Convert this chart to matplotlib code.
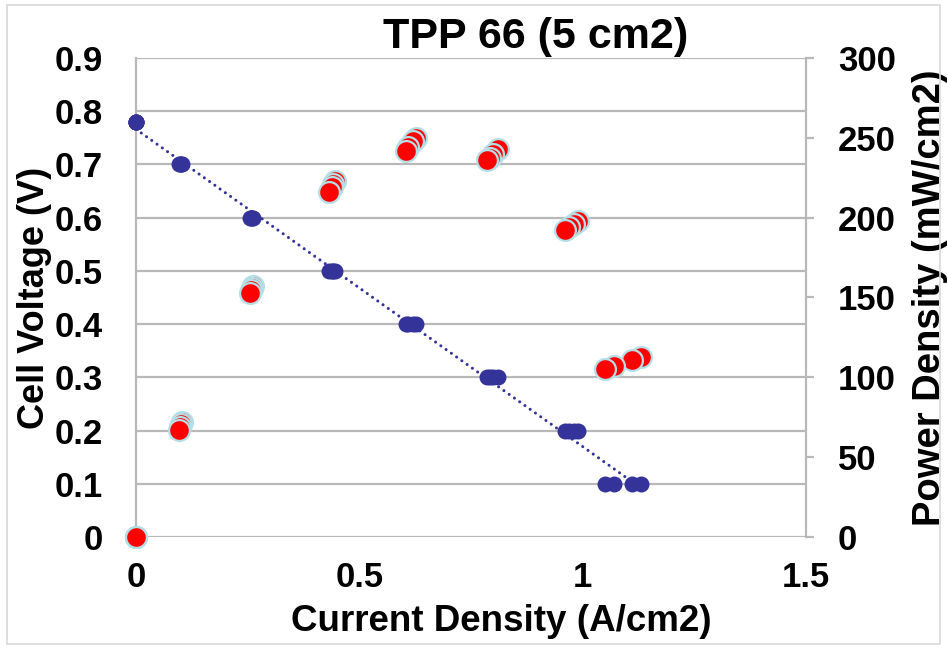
import numpy as np
import matplotlib
matplotlib.use("Agg")
import matplotlib.pyplot as plt
from matplotlib.patches import Rectangle

plt.rcParams['font.family'] = ['Liberation Sans', 'DejaVu Sans']
plt.rcParams['font.weight'] = 'bold'

# current density (A/cm2), four scans per voltage step
current = [0, 0, 0, 0,
           0.096, 0.099, 0.101, 0.103,
           0.255, 0.258, 0.260, 0.262,
           0.433, 0.438, 0.442, 0.446,
           0.604, 0.610, 0.620, 0.626,
           0.786, 0.792, 0.800, 0.810,
           0.960, 0.970, 0.980, 0.990,
           1.050, 1.070, 1.110, 1.130]
voltage = [0.78] * 4 + [0.7] * 4 + [0.6] * 4 + [0.5] * 4 + \
          [0.4] * 4 + [0.3] * 4 + [0.2] * 4 + [0.1] * 4
power = [0, 0, 0, 0,
         67, 69, 70.5, 72,
         153, 155, 156, 157.5,
         216, 219, 221, 223,
         242, 244, 248, 250,
         236, 237.5, 240, 243,
         192, 194, 196, 198,
         105, 107, 111, 113]

xticks = [0, 0.5, 1, 1.5]
vticks = [0, 0.1, 0.2, 0.3, 0.4, 0.5, 0.6, 0.7, 0.8, 0.9]
pticks = [0, 50, 100, 150, 200, 250, 300]

blue = '#333399'
grid_c = '#b8b8b8'

fig = plt.figure(figsize=(9.47, 6.48), dpi=100)
fig.patches.append(Rectangle((0.007, 0.006), 0.986, 0.986, transform=fig.transFigure,
                             fill=False, edgecolor='#d9d9d9', linewidth=1.2))
ax = fig.add_axes([0.1436, 0.1713, 0.7075, 0.7392])

ax.set_xlim(0, 1.5)
ax.set_ylim(0, 0.9)
ax.set_xticks(xticks)
ax.set_xticklabels(['0', '0.5', '1', '1.5'])
ax.set_yticks(vticks)
ax.set_yticklabels(['0', '0.1', '0.2', '0.3', '0.4', '0.5', '0.6', '0.7', '0.8', '0.9'])
ax.yaxis.grid(True, color=grid_c, linewidth=1.6)
ax.set_axisbelow(True)
for s in ['top', 'right', 'bottom']:
    ax.spines[s].set_visible(False)
ax.spines['left'].set_color(grid_c)
ax.spines['left'].set_linewidth(1.6)
ax.tick_params(axis='both', length=0, labelsize=25)
ax.tick_params(axis='x', pad=17)
ax.tick_params(axis='y', pad=24)

# linear trendline through the voltage points
k, b = np.polyfit(current, voltage, 1)
xs = np.array([0, max(current)])
ax.plot(xs, k * xs + b, color=blue, linewidth=2.2,
        linestyle=(0, (0.01, 2.1)), dash_capstyle='round', zorder=2)
ax.plot(current, voltage, 'o', color=blue, markersize=11.5, markeredgewidth=0,
        zorder=3, clip_on=False)

ax.set_xlabel('Current Density (A/cm2)', fontsize=26.5, fontweight='bold')
ax.xaxis.set_label_coords(0.545, -0.177)
ax.xaxis.label.set_va('center')
ax.set_ylabel('Cell Voltage (V)', fontsize=26, fontweight='bold')
ax.yaxis.set_label_coords(-0.151, 0.5)
ax.yaxis.label.set_va('center')

ax2 = ax.twinx()
ax2.set_ylim(0, 300)
ax2.set_yticks(pticks)
for s in ['top', 'left', 'bottom']:
    ax2.spines[s].set_visible(False)
ax2.spines['right'].set_color(grid_c)
ax2.spines['right'].set_linewidth(1.6)
ax2.tick_params(axis='y', length=6, width=1.6, color=grid_c, labelsize=25, pad=17)
# later scans drawn first so the first scan sits in front
ax2.plot(current[::-1], power[::-1], 'o', color='#ff0000', markersize=15,
         markeredgecolor='#b4dfe6', markeredgewidth=1.6, zorder=4, clip_on=False)
ax2.set_ylabel('Power Density (mW/cm2)', fontsize=27.5, fontweight='bold')
ax2.yaxis.set_label_coords(1.185, 0.5)
ax2.yaxis.label.set_va('center')

fig.text(0.566, 0.943, 'TPP 66 (5 cm2)', fontsize=31, fontweight='bold',
         ha='center', va='center')

fig.savefig('out.png', dpi=100)
